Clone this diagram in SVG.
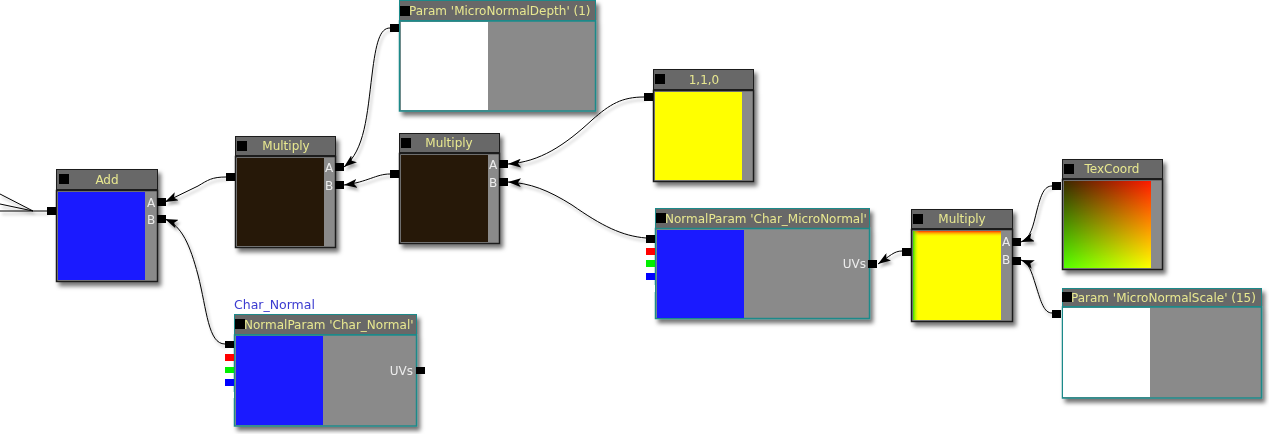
<svg xmlns="http://www.w3.org/2000/svg" width="1269" height="434" viewBox="0 0 1269 434">
<defs>
<filter id="sh" x="-10%" y="-10%" width="130%" height="130%">
<feDropShadow dx="3" dy="4" stdDeviation="2" flood-color="#000" flood-opacity="0.55"/>
</filter>
<filter id="lsh" x="-10%" y="-10%" width="130%" height="130%">
<feDropShadow dx="2" dy="3" stdDeviation="1.5" flood-color="#000" flood-opacity="0.35"/>
</filter>
<marker id="arr" viewBox="0 0 13 9" refX="13" refY="4.5" markerWidth="13" markerHeight="9" markerUnits="userSpaceOnUse" orient="auto">
<path d="M0,0 L13,4.5 L0,9 L3,4.5 Z" fill="#000"/>
</marker>
<linearGradient id="tcR" x1="0" y1="0" x2="1" y2="0">
<stop offset="0" stop-color="#3a2a00"/><stop offset="1" stop-color="#ff1a00"/>
</linearGradient>
<linearGradient id="tcG" x1="0" y1="0" x2="0" y2="1">
<stop offset="0" stop-color="#000"/><stop offset="1" stop-color="#22ff00"/>
</linearGradient>
<linearGradient id="m3top" x1="0" y1="0" x2="0" y2="1">
<stop offset="0" stop-color="#ff3300"/><stop offset="1" stop-color="#ffff00" stop-opacity="0"/>
</linearGradient>
<linearGradient id="m3left" x1="0" y1="0" x2="1" y2="0">
<stop offset="0" stop-color="#33dd00"/><stop offset="1" stop-color="#ffff00" stop-opacity="0"/>
</linearGradient>
</defs>
<style>
.hdr{fill:#686868;stroke:#1e1e1e;stroke-width:1}
.body{fill:#8a8a8a;stroke:#1e1e1e;stroke-width:1.5}
.pbody{fill:#8a8a8a;stroke:#1f8a8a;stroke-width:1.5}
.phdr{fill:#686868;stroke:#1f8a8a;stroke-width:1}
.ttl{font-family:"DejaVu Sans",Verdana,sans-serif;font-size:12px;fill:#e8e890}
.lbl{font-family:"DejaVu Sans",Verdana,sans-serif;font-size:12px;fill:#ececec}
.port{fill:#000}
.blue{fill:#1a1aff}
.conn{fill:none;stroke:#000;stroke-width:1}
</style>
<rect width="1269" height="434" fill="#fff"/>

<g id="connectors" filter="url(#lsh)">
<path class="conn" d="M47,211 L33,211 L0,194 M33,211 L0,204 M33,211 L0,211" stroke-width="1.2"/>
<path class="conn" d="M226,177 C212,177 208,180 198,186 L165,202" marker-end="url(#arr)"/>
<path class="conn" d="M225,344 C208,344 207,310 198,275 C190,245 182,226 165,219" marker-end="url(#arr)"/>
<path class="conn" d="M390,28 C380,28 376,42 372,75 C367,115 365,150 344,167" marker-end="url(#arr)"/>
<path class="conn" d="M390,174 C376,174 368,182 344,185" marker-end="url(#arr)"/>
<path class="conn" d="M644,97 C622,97 610,104 592,120 C565,145 540,162 508,164" marker-end="url(#arr)"/>
<path class="conn" d="M646,238 C622,236 602,226 572,205 C548,190 530,183 508,182" marker-end="url(#arr)"/>
<path class="conn" d="M902,251 C894,251 890,256 878,264" marker-end="url(#arr)"/>
<path class="conn" d="M1052,186 C1044,186 1041,195 1037,210 C1033,226 1031,238 1021,242" marker-end="url(#arr)"/>
<path class="conn" d="M1052,313 C1044,313 1041,302 1036,286 C1031,270 1029,263 1021,260" marker-end="url(#arr)"/>
</g>

<g id="node-add">
<g filter="url(#sh)">
<rect class="hdr" x="56.5" y="169.5" width="101" height="20"/>
<rect class="body" x="56.5" y="190.5" width="101" height="91"/>
</g>
<rect class="blue" x="58" y="192" width="87" height="88"/>
<rect class="port" x="59" y="174" width="10" height="10"/>
<text class="ttl" x="107" y="184" text-anchor="middle">Add</text>
<text class="lbl" x="147" y="207">A</text>
<text class="lbl" x="147" y="224">B</text>
<rect class="port" x="47" y="207" width="9" height="8"/>
<rect class="port" x="157" y="198" width="9" height="8"/>
<rect class="port" x="157" y="215" width="9" height="8"/>
</g>

<g id="node-multiply1">
<g filter="url(#sh)">
<rect class="hdr" x="235.5" y="136.5" width="100" height="19"/>
<rect class="body" x="235.5" y="156.5" width="100" height="91"/>
</g>
<rect x="237" y="158" width="87" height="88" fill="#261808"/>
<rect class="port" x="237" y="141" width="10" height="10"/>
<text class="ttl" x="286" y="150" text-anchor="middle">Multiply</text>
<text class="lbl" x="325" y="172">A</text>
<text class="lbl" x="325" y="190">B</text>
<rect class="port" x="226" y="173" width="9" height="8"/>
<rect class="port" x="335" y="163" width="9" height="8"/>
<rect class="port" x="335" y="181" width="9" height="8"/>
</g>

<g id="node-multiply2">
<g filter="url(#sh)">
<rect class="hdr" x="399.5" y="133.5" width="100" height="19"/>
<rect class="body" x="399.5" y="153.5" width="100" height="90"/>
</g>
<rect x="401" y="155" width="87" height="87" fill="#261808"/>
<rect class="port" x="401" y="138" width="10" height="10"/>
<text class="ttl" x="449" y="147" text-anchor="middle">Multiply</text>
<text class="lbl" x="489" y="169">A</text>
<text class="lbl" x="489" y="187">B</text>
<rect class="port" x="390" y="170" width="9" height="8"/>
<rect class="port" x="499" y="160" width="9" height="8"/>
<rect class="port" x="499" y="178" width="9" height="8"/>
</g>

<g id="node-param-depth">
<g filter="url(#sh)">
<rect class="phdr" x="399.5" y="0.5" width="196" height="20"/>
<rect class="pbody" x="399.5" y="21" width="196" height="90"/>
</g>
<rect x="401" y="22" width="87" height="88" fill="#fff"/>
<rect class="port" x="400" y="6" width="10" height="10"/>
<text class="ttl" x="409" y="15">Param 'MicroNormalDepth' (1)</text>
<rect class="port" x="390" y="24" width="9" height="8"/>
</g>

<g id="node-const">
<g filter="url(#sh)">
<rect class="hdr" x="653.5" y="69.5" width="100" height="20"/>
<rect class="body" x="653.5" y="90.5" width="100" height="91"/>
</g>
<rect x="655" y="92" width="87" height="88" fill="#ffff00"/>
<rect class="port" x="655" y="74" width="10" height="10"/>
<text class="ttl" x="704" y="84" text-anchor="middle">1,1,0</text>
<rect class="port" x="644" y="93" width="9" height="8"/>
</g>

<g id="node-micronormal">
<g filter="url(#sh)">
<rect class="phdr" x="655.5" y="208.5" width="214" height="20"/>
<rect class="pbody" x="655.5" y="228.5" width="214" height="90"/>
</g>
<rect class="blue" x="657" y="230" width="87" height="88"/>
<rect class="port" x="656" y="213" width="10" height="10"/>
<text class="ttl" x="665" y="223">NormalParam 'Char_MicroNormal'</text>
<text class="lbl" x="866" y="268" text-anchor="end">UVs</text>
<rect class="port" x="868" y="260" width="9" height="8"/>
<rect class="port" x="646" y="235" width="9" height="8"/>
<rect x="646" y="248" width="9" height="7" fill="#ff0000"/>
<rect x="646" y="260" width="9" height="7" fill="#00ee00"/>
<rect x="646" y="273" width="9" height="7" fill="#0000ff"/>
<rect x="646" y="285" width="9" height="7" fill="#ffffff"/>
</g>

<g id="node-multiply3">
<g filter="url(#sh)">
<rect class="hdr" x="911.5" y="209.5" width="101" height="19"/>
<rect class="body" x="911.5" y="229.5" width="101" height="92"/>
</g>
<rect x="913" y="231" width="88" height="89" fill="#ffff00"/>
<rect x="913" y="231" width="88" height="6" fill="url(#m3top)"/>
<rect x="913" y="231" width="6" height="89" fill="url(#m3left)"/>
<rect class="port" x="913" y="214" width="10" height="10"/>
<text class="ttl" x="962" y="223" text-anchor="middle">Multiply</text>
<text class="lbl" x="1002" y="246">A</text>
<text class="lbl" x="1002" y="264">B</text>
<rect class="port" x="902" y="248" width="9" height="8"/>
<rect class="port" x="1012" y="238" width="9" height="8"/>
<rect class="port" x="1012" y="257" width="9" height="8"/>
</g>

<g id="node-texcoord">
<g filter="url(#sh)">
<rect class="hdr" x="1062.5" y="159.5" width="100" height="19"/>
<rect class="body" x="1062.5" y="179.5" width="100" height="90"/>
</g>
<rect x="1064" y="181" width="87" height="87" fill="url(#tcR)"/>
<rect x="1064" y="181" width="87" height="87" fill="url(#tcG)" style="mix-blend-mode:screen"/>
<rect class="port" x="1064" y="164" width="10" height="10"/>
<text class="ttl" x="1112" y="173" text-anchor="middle">TexCoord</text>
<rect class="port" x="1052" y="182" width="9" height="8"/>
</g>

<g id="node-param-scale">
<g filter="url(#sh)">
<rect class="phdr" x="1062.5" y="288.5" width="199" height="18"/>
<rect class="pbody" x="1062.5" y="307" width="199" height="91"/>
</g>
<rect x="1063" y="308" width="87" height="89" fill="#fff"/>
<rect class="port" x="1062" y="292" width="10" height="10"/>
<text class="ttl" x="1071" y="302">Param 'MicroNormalScale' (15)</text>
<rect class="port" x="1052" y="310" width="9" height="8"/>
</g>

<g id="node-charnormal">
<text x="234" y="309" font-family="DejaVu Sans, Verdana, sans-serif" font-size="12.5" fill="#3b3bd0">Char_Normal</text>
<g filter="url(#sh)">
<rect class="phdr" x="234.5" y="314.5" width="182" height="20"/>
<rect class="pbody" x="234.5" y="335" width="182" height="91"/>
</g>
<rect class="blue" x="236" y="336" width="87" height="89"/>
<rect class="port" x="235" y="319" width="10" height="10"/>
<text class="ttl" x="244" y="329">NormalParam 'Char_Normal'</text>
<text class="lbl" x="413" y="375" text-anchor="end">UVs</text>
<rect class="port" x="416" y="367" width="9" height="7"/>
<rect class="port" x="225" y="341" width="9" height="7"/>
<rect x="225" y="354" width="9" height="7" fill="#ff0000"/>
<rect x="225" y="367" width="9" height="6" fill="#00ee00"/>
<rect x="225" y="379" width="9" height="7" fill="#0000ff"/>
<rect x="225" y="392" width="9" height="6" fill="#ffffff"/>
</g>
</svg>
